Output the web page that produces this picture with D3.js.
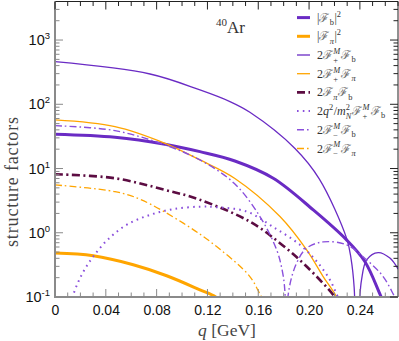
<!DOCTYPE html>
<html><head><meta charset="utf-8">
<script src="https://cdn.jsdelivr.net/npm/d3@7"></script>
<style>body{margin:0;background:#fff}svg{display:block}</style>
</head><body>
<svg id="c" width="399" height="341"></svg>
<script>
// ---- data (q in GeV, value) ----
const xTickVals = [0, 0.04, 0.08, 0.12, 0.16, 0.20, 0.24];
const xTickLabels = ["0", "0.04", "0.08", "0.12", "0.16", "0.20", "0.24"];
const yTickVals = [0.1, 1, 10, 100, 1000];
const yTickExps = ["-1", "0", "1", "2", "3"];

const sFb2 = [[0,34.2],[0.0472,30.7],[0.0866,23.9],[0.1141,18.3],[0.1416,13.1],[0.1718,7.06],[0.2033,2.27],[0.2295,0.776],[0.2439,0.357],[0.2571,0.097],[0.265,0.045]];
const sFpi2 = [[0,0.482],[0.0301,0.437],[0.0616,0.317],[0.0879,0.214],[0.1141,0.129],[0.1265,0.1],[0.135,0.07]];
const sFpMFb = [[0,460],[0.0748,296],[0.1141,167],[0.1377,110],[0.1534,75],[0.1889,20.5],[0.208,6.9],[0.2295,0.824],[0.233,0.40],[0.2355,0.14],[0.2375,0.004],[0.240,0.10],[0.2413,0.185],[0.2453,0.379],[0.2544,0.492],[0.2636,0.403],[0.2701,0.272]];
const sFpMFpi = [[0,57.0],[0.0472,44.9],[0.0866,24.7],[0.1141,13.6],[0.1416,7.0],[0.1771,1.79],[0.1981,0.542],[0.2111,0.208],[0.2217,0.1],[0.228,0.05]];
const sFpiFb = [[0,8.15],[0.0472,7.06],[0.0866,4.65],[0.1128,3.33],[0.1534,1.49],[0.1771,0.689],[0.1981,0.298],[0.2203,0.1],[0.227,0.06]];
const sQ2FpMFb = [[0.008,0.035],[0.0139,0.102],[0.021,0.221],[0.0301,0.427],[0.0419,0.795],[0.0564,1.33],[0.0748,1.90],[0.0931,2.33],[0.1141,2.55],[0.1272,2.50],[0.1509,2.14],[0.1715,1.24],[0.1928,0.65],[0.2059,0.36],[0.2164,0.185],[0.2227,0.1],[0.228,0.06]];
const sFmMFb = [[0,46.5],[0.0472,38.9],[0.0866,23.3],[0.1141,13.6],[0.1410,5.9],[0.1613,1.79],[0.1745,0.542],[0.179,0.25],[0.181,0.12],[0.1822,0.004],[0.1836,0.11],[0.1902,0.337],[0.1981,0.576],[0.2111,0.721],[0.2295,0.648],[0.2453,0.379],[0.2583,0.208],[0.2675,0.1],[0.272,0.07]];
const sFmMFpi = [[0,5.56],[0.0472,4.37],[0.0669,3.33],[0.101,1.41],[0.1272,0.61],[0.1534,0.208],[0.1626,0.1],[0.168,0.07]];

const PURPLE = "#6a2bc4", LPURPLE = "#8a4fdc", ORANGE = "#ffa500", MAROON = "#5c0c42";

const series = [
  {d: sFb2,     c: PURPLE,  w: 3,   dash: null},
  {d: sFpi2,    c: ORANGE,  w: 3,   dash: null},
  {d: sFpMFb,   c: PURPLE,  w: 1.3, dash: null},
  {d: sFpMFpi,  c: ORANGE,  w: 1.3, dash: null},
  {d: sFpiFb,   c: MAROON,  w: 2.6, dash: "8,3.5,2,3.5"},
  {d: sQ2FpMFb, c: LPURPLE, w: 2,   dash: "1.6,4.2"},
  {d: sFmMFb,   c: LPURPLE, w: 1.4, dash: "7,3,1.6,3"},
  {d: sFmMFpi,  c: ORANGE,  w: 1.3, dash: "7,3,1.6,3"}
];

const SF = "ℱ";
const legendItems = [
  [{t:"|"},{f:SF},{sub:"b"},{t:"|"},{sup:"2"}],
  [{t:"|"},{f:SF},{sub:"π",it:1},{t:"|"},{sup:"2"}],
  [{t:"2"},{f:SF},{ss:["M","+"]},{f:SF},{sub:"b"}],
  [{t:"2"},{f:SF},{ss:["M","+"]},{f:SF},{sub:"π",it:1}],
  [{t:"2"},{f:SF},{sub:"π",it:1},{f:SF},{sub:"b"}],
  [{t:"2"},{t:"q",it:1},{sup:"2"},{t:"/"},{t:"m",it:1},{ss:["2","N"],subit:1},{f:SF},{ss:["M","+"]},{f:SF},{sub:"b"}],
  [{t:"2"},{f:SF},{ss:["M","−"]},{f:SF},{sub:"b"}],
  [{t:"2"},{f:SF},{ss:["M","−"]},{f:SF},{sub:"π",it:1}]
];

// ---- layout ----
const L = 55, R = 398, T = 1.5, B = 297;
const svg = d3.select("#c");
const x = d3.scaleLinear().domain([0, 0.27]).range([L, R]);
const y = d3.scaleLog().domain([0.1, Math.pow(10, 3.6)]).range([B, T]);

svg.append("defs").append("clipPath").attr("id","clip")
  .append("rect").attr("x",L).attr("y",T).attr("width",R-L).attr("height",B-T);

// curves
const line = d3.line().x(p => x(p[0])).y(p => y(p[1])).curve(d3.curveCatmullRom.alpha(0.5));
const gc = svg.append("g").attr("clip-path","url(#clip)");
series.forEach(s => {
  gc.append("path").attr("d", line(s.d)).attr("fill","none")
    .attr("stroke", s.c).attr("stroke-width", s.w)
    .attr("stroke-dasharray", s.dash);
});

// frame
const AX = "#8a8a8a";
svg.append("line").attr("x1",L).attr("x2",R).attr("y1",T).attr("y2",T).attr("stroke","#222").attr("stroke-width",1);
svg.append("line").attr("x1",R).attr("x2",R).attr("y1",T).attr("y2",B).attr("stroke","#222").attr("stroke-width",1);
svg.append("line").attr("x1",L).attr("x2",L).attr("y1",T).attr("y2",B+1).attr("stroke",AX).attr("stroke-width",2);
svg.append("line").attr("x1",L-1).attr("x2",R).attr("y1",B).attr("y2",B).attr("stroke",AX).attr("stroke-width",2);

// x ticks (bottom & top, inward)
const xMinor = d3.range(0, 0.2701, 0.01);
xMinor.forEach(v => {
  const maj = Math.abs(v/0.04 - Math.round(v/0.04)) < 1e-6;
  const len = maj ? 8 : 4.5;
  svg.append("line").attr("x1",x(v)).attr("x2",x(v)).attr("y1",B).attr("y2",B-len).attr("stroke",AX).attr("stroke-width",1);
  svg.append("line").attr("x1",x(v)).attr("x2",x(v)).attr("y1",T).attr("y2",T+len).attr("stroke","#222").attr("stroke-width",1);
});
const xAxis = d3.axisBottom(x).tickValues(xTickVals).tickFormat((d,i) => xTickLabels[i]).tickSize(0).tickPadding(8);
const gx = svg.append("g").attr("transform",`translate(0,${B})`).call(xAxis);
gx.select(".domain").remove();
gx.selectAll("text").attr("font-family","'Liberation Sans',Arial,sans-serif").attr("font-size",14).attr("fill","#111");

// y ticks (left & right, inward)
for (let e = -1; e <= 3; e++) {
  for (let m = 1; m <= 9; m++) {
    const v = m * Math.pow(10, e);
    if (y(v) < T) continue;
    const len = m === 1 ? 8 : 4.5;
    svg.append("line").attr("x1",L).attr("x2",L+len).attr("y1",y(v)).attr("y2",y(v)).attr("stroke",AX).attr("stroke-width",1);
    svg.append("line").attr("x1",R).attr("x2",R-len).attr("y1",y(v)).attr("y2",y(v)).attr("stroke","#222").attr("stroke-width",1);
  }
}
const yAxis = d3.axisLeft(y).tickValues(yTickVals).tickSize(0).tickFormat(() => "");
const gy = svg.append("g").attr("transform",`translate(${L},0)`).call(yAxis);
gy.select(".domain").remove();
gy.selectAll(".tick").each(function(d, i) {
  const t = d3.select(this).append("text").attr("x",-5).attr("dy","0.32em").attr("text-anchor","end")
    .attr("font-family","'Liberation Sans',Arial,sans-serif").attr("font-size",14.5).attr("fill","#111");
  t.append("tspan").text("10");
  t.append("tspan").attr("dy",-6).attr("font-size",9.5).text(yTickExps[i]);
});

// axis titles
svg.append("text").attr("x",227).attr("y",336).attr("text-anchor","middle")
  .attr("font-family","'Liberation Serif','DejaVu Serif',serif").attr("font-size",17.5).attr("fill","#444")
  .call(t => { t.append("tspan").attr("font-style","italic").text("q"); t.append("tspan").text(" [GeV]"); });
svg.append("text").attr("transform","translate(18,182) rotate(-90)").attr("text-anchor","middle")
  .attr("font-family","'Liberation Serif','DejaVu Serif',serif").attr("font-size",18).attr("fill","#444")
  .attr("textLength",130).attr("lengthAdjust","spacing")
  .text("structure factors");

// 40Ar label
svg.append("text").attr("x",216).attr("y",33)
  .attr("font-family","'Liberation Serif','DejaVu Serif',serif").attr("font-size",17).attr("fill","#333")
  .call(t => { t.append("tspan").attr("font-size",11).attr("dy",-7).text("40"); t.append("tspan").attr("dy",7).text("Ar"); });

// legend
const FONT = "'Liberation Serif','DejaVu Serif',serif";
const FFONT = "'DejaVu Serif','Liberation Serif',serif";
function rich(g, x0, yb, segs, size) {
  let cx = x0;
  const small = size * 0.7;
  function put(txt, xx, yy, fs, it, fam, col) {
    const t = g.append("text").attr("x", xx).attr("y", yy).attr("font-family", fam || FONT)
      .attr("font-size", fs).attr("fill", col || "#333").attr("font-style", it ? "italic" : "normal").text(txt);
    return t.node().getComputedTextLength();
  }
  segs.forEach(s => {
    if (s.t !== undefined) cx += put(s.t, cx, yb, size, s.it);
    else if (s.f !== undefined) cx += put(s.f, cx, yb, size, 0, FFONT, "#6a6a6a") + 0.3;
    else if (s.sub !== undefined) cx += put(s.sub, cx, yb + size*0.28, small, s.it) + 0.5;
    else if (s.sup !== undefined) cx += put(s.sup, cx, yb - size*0.42, small, s.it) + 0.5;
    else if (s.ss) {
      const w1 = put(s.ss[0], cx, yb - size*0.42, small, s.ss[0] === "M");
      const w2 = put(s.ss[1], cx, yb + size*0.32, small, s.subit);
      cx += Math.max(w1, w2) + 1;
    }
  });
}
const lg = svg.append("g");
legendItems.forEach((segs, i) => {
  const yy = 17.6 + i * 18.7;
  const s = series[i];
  lg.append("line").attr("x1",297).attr("x2",310).attr("y1",yy).attr("y2",yy)
    .attr("stroke", s.c).attr("stroke-width", s.w).attr("stroke-dasharray", s.dash);
  rich(lg, 317, yy + 4, segs, 12);
});
</script>
</body></html>
